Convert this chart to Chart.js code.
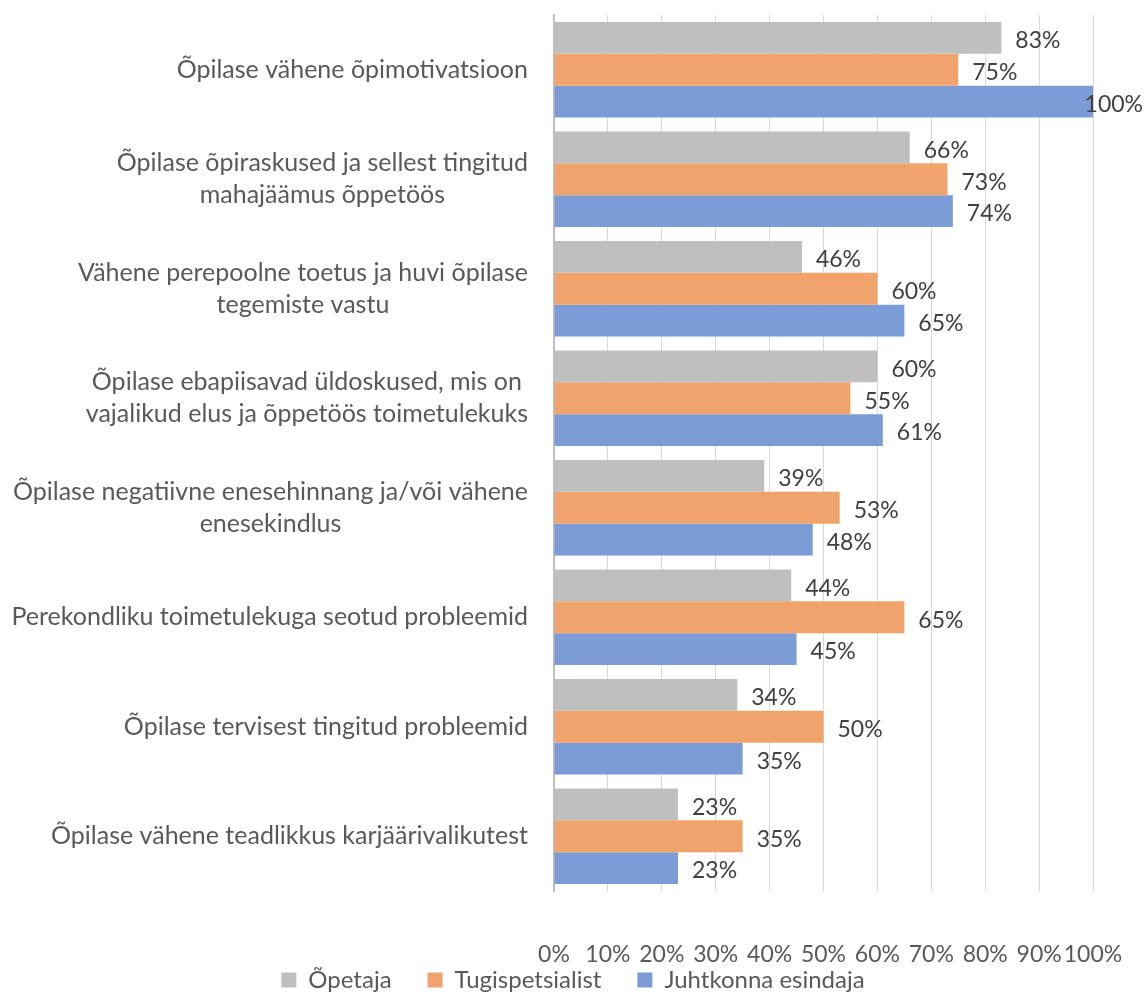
<!DOCTYPE html>
<html>
<head>
<meta charset="utf-8">
<script src="https://cdn.jsdelivr.net/npm/chart.js@4"></script>
<style>
  html, body { margin: 0; padding: 0; background: #fff; }
  #wrap { width: 1146px; height: 994px; position: relative; }
</style>
</head>
<body>
<div id="wrap"><canvas id="chart"></canvas></div>
<script>
    // Kategooriad (mitmerealised sildid massiividena)
    const categories = [
        ["Õpilase vähene õpimotivatsioon"],
        ["Õpilase õpiraskused ja sellest tingitud", "mahajäämus õppetöös"],
        ["Vähene perepoolne toetus ja huvi õpilase", "tegemiste vastu"],
        ["Õpilase ebapiisavad üldoskused, mis on", "vajalikud elus ja õppetöös toimetulekuks"],
        ["Õpilase negatiivne enesehinnang ja/või vähene", "enesekindlus"],
        ["Perekondliku toimetulekuga seotud probleemid"],
        ["Õpilase tervisest tingitud probleemid"],
        ["Õpilase vähene teadlikkus karjäärivalikutest"]
    ];
    const seriesNames = ["Õpetaja", "Tugispetsialist", "Juhtkonna esindaja"];
    const opetaja = [83, 66, 46, 60, 39, 44, 34, 23];
    const tugispetsialist = [75, 73, 60, 55, 53, 65, 50, 35];
    const juhtkond = [100, 74, 65, 61, 48, 45, 35, 23];
    const tickValues = [0, 10, 20, 30, 40, 50, 60, 70, 80, 90, 100];

    const FONT = "Lato";
    const textGrey = '#595959';

    // Kategooriasildid: read keskel, plokk paremale joondatud
    const categoryLabels = {
        id: 'categoryLabels',
        afterDraw(chart) {
            const ctx = chart.ctx;
            const y = chart.scales.y;
            ctx.save();
            ctx.font = '25px ' + FONT;
            ctx.fillStyle = textGrey;
            ctx.textAlign = 'center';
            ctx.textBaseline = 'middle';
            const lineH = 32;
            categories.forEach((lines, i) => {
                const cy = y.getPixelForValue(i);
                const maxW = Math.max(...lines.map(l => ctx.measureText(l).width));
                const cx = y.right - 26 - maxW / 2;
                const top = cy - (lines.length - 1) * lineH / 2;
                lines.forEach((l, j) => ctx.fillText(l, cx, top + j * lineH));
            });
            ctx.restore();
        }
    };

    // x-telje sildid allpool graafikut (legendi kohal)
    const xTickLabels = {
        id: 'xTickLabels',
        afterDraw(chart) {
            const ctx = chart.ctx;
            const x = chart.scales.x;
            ctx.save();
            ctx.font = '23px ' + FONT;
            ctx.fillStyle = textGrey;
            ctx.textAlign = 'center';
            ctx.textBaseline = 'middle';
            tickValues.forEach(v => ctx.fillText(v + '%', x.getPixelForValue(v), 955));
            ctx.restore();
        }
    };

    // Väärtussildid tulpade järel
    const valueLabels = {
        id: 'valueLabels',
        afterDatasetsDraw(chart) {
            const ctx = chart.ctx;
            ctx.save();
            ctx.font = '23px ' + FONT;
            ctx.fillStyle = '#404040';
            ctx.textAlign = 'left';
            ctx.textBaseline = 'middle';
            chart.data.datasets.forEach((ds, di) => {
                chart.getDatasetMeta(di).data.forEach((bar, i) => {
                    const txt = ds.data[i] + '%';
                    const w = ctx.measureText(txt).width;
                    let x = bar.x + 14;
                    if (x + w > chart.width - 3) x = chart.width - 3 - w;
                    ctx.fillText(txt, x, bar.y + 3);
                });
            });
            ctx.restore();
        }
    };

    const ctx = document.getElementById('chart').getContext('2d');
    new Chart(ctx, {
        type: 'bar',
        data: {
            labels: categories,
            datasets: [
                { label: seriesNames[0], data: opetaja, backgroundColor: '#bfbfbf' },
                { label: seriesNames[1], data: tugispetsialist, backgroundColor: '#f0a46c' },
                { label: seriesNames[2], data: juhtkond, backgroundColor: '#7b9cd6' }
            ]
        },
        options: {
            indexAxis: 'y',
            responsive: true,
            maintainAspectRatio: false,
            animation: false,
            layout: { padding: { top: 15, left: 0, right: 0, bottom: -8 } },
            datasets: {
                bar: { categoryPercentage: 0.87, barPercentage: 1.0, borderWidth: 0 }
            },
            plugins: {
                legend: {
                    position: 'bottom',
                    labels: {
                        font: { family: FONT, size: 24 },
                        color: textGrey,
                        boxWidth: 15,
                        boxHeight: 15,
                        padding: 36
                    }
                },
                tooltip: { enabled: false }
            },
            scales: {
                x: {
                    min: 0,
                    max: 100,
                    afterBuildTicks(scale) {
                        scale.ticks = tickValues.map(v => ({ value: v }));
                    },
                    afterFit(scale) {
                        scale.height = 41;
                        scale.paddingLeft = 0;
                        scale.paddingRight = 53;
                    },
                    ticks: { display: false },
                    grid: { color: '#d9d9d9', lineWidth: 1, drawTicks: false },
                    border: { display: false }
                },
                y: {
                    afterFit(scale) { scale.width = 554; },
                    ticks: { display: false },
                    grid: { display: false, drawTicks: false },
                    border: { display: true, color: '#bfbfbf', width: 2 }
                }
            }
        },
        plugins: [categoryLabels, xTickLabels, valueLabels]
    });
</script>
</body>
</html>
